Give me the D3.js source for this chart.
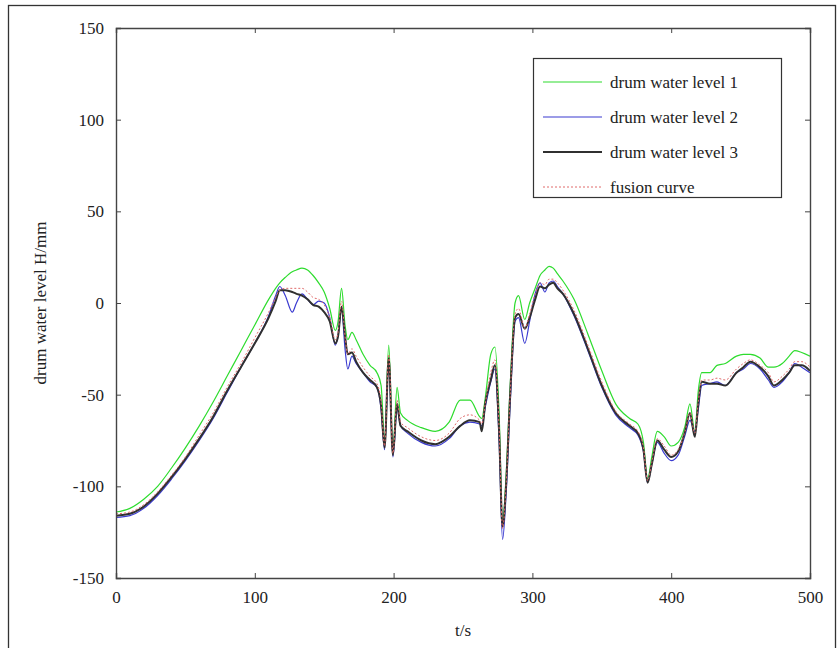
<!DOCTYPE html>
<html>
<head>
<meta charset="utf-8">
<script src="https://cdn.jsdelivr.net/npm/d3@7"></script>
<style>
  body { margin: 0; background: #fff; }
</style>
</head>
<body>
<svg id="chart" width="840" height="648"></svg>
<script>
const times = [0, 10, 20, 30, 40, 50, 60, 70, 80, 90, 100, 110, 115, 118, 122, 127, 130, 134, 138, 142, 146, 150, 154, 158, 160, 162.5, 165, 167, 170, 173, 178, 183, 188, 191, 193.5, 196.5, 199.5, 202.5, 205, 210, 220, 230, 240, 248, 255, 262, 263.5, 266, 270, 273, 276, 278.5, 281, 284, 287.5, 290, 294.5, 298, 302, 305.5, 309, 312, 315, 318, 322, 330, 340, 350, 360, 370, 376, 380, 383, 386, 390, 395, 400, 405, 410, 413.5, 417, 419.5, 422, 428, 433, 439, 447, 452, 457, 464, 470, 474, 480, 485, 489, 494, 500];

const level1 = [-114, -112, -107, -100, -90, -79, -67, -54, -40, -26, -12, 2, 8, 11, 14, 17, 18, 19, 18, 15, 11, 6, -3, -15, -10, 8, -12, -20, -16, -20, -28, -34, -38, -45, -75, -23, -80, -46, -60, -64, -68, -70, -65, -53, -53, -62, -63, -52, -28, -24, -60, -120, -95, -45, 0, 4, -9, 0, 8, 15, 18, 20, 19, 16, 12, 2, -17, -37, -55, -63, -66, -76, -96, -84, -70, -73, -78, -76, -67, -55, -70, -48, -38, -38, -34, -33, -29, -28, -28, -30, -35, -35, -33, -29, -26, -27, -29];

const level2 = [-117, -116, -112, -105, -96, -86, -75, -63, -49, -35, -22, -7, 4, 9, 4, -5, 0, 5, 2, -1, 1, 0, -8, -23, -18, -3, -25, -36, -29, -33, -38, -43, -46, -58, -80, -32, -84, -58, -67, -71, -76, -78, -74, -67, -65, -66, -67, -57, -43, -36, -75, -129, -105, -55, -10, -8, -22, -10, 5, 11, 6, 11, 12, 9, 5, -7, -26, -46, -61, -68, -72, -81, -98, -88, -76, -82, -86, -83, -72, -64, -70, -58, -45, -44, -43, -45, -38, -36, -33, -36, -42, -46, -43, -38, -33, -35, -38];

const level3 = [-116, -115, -111, -104, -95, -85, -74, -62, -48, -35, -22, -8, 1, 7, 7, 6, 5, 4, 2, -1, -2, -5, -10, -22, -18, -2, -18, -28, -27, -32, -38, -42, -46, -56, -79, -30, -83, -55, -67, -70, -75, -77, -73, -67, -64, -65, -70, -55, -42, -34, -70, -122, -100, -50, -8, -6, -14, -8, 2, 9, 8, 10, 11, 8, 5, -6, -25, -45, -60, -67, -71, -80, -98, -88, -75, -80, -84, -81, -70, -60, -73, -55, -43, -44, -44, -45, -38, -35, -32, -35, -40, -45, -42, -38, -34, -34, -37];

const fusion = [-115, -114, -110, -103, -94, -84, -72, -60, -46, -33, -19, -5, 3, 7, 8, 8, 8, 8, 6, 3, 2, -1, -8, -20, -16, 1, -18, -28, -25, -29, -35, -40, -44, -54, -78, -28, -82, -53, -65, -68, -73, -75, -71, -63, -61, -64, -66, -55, -38, -31, -68, -123, -100, -50, -6, -3, -14, -6, 5, 11, 10, 13, 13, 11, 7, -4, -23, -43, -59, -66, -70, -79, -97, -87, -74, -78, -83, -80, -70, -60, -71, -54, -42, -42, -41, -42, -36, -33, -31, -34, -38, -43, -40, -36, -32, -32, -35];

const xTicks = [0, 100, 200, 300, 400, 500];
const yTicks = [-150, -100, -50, 0, 50, 100, 150];
const seriesNames = ["drum water level 1", "drum water level 2", "drum water level 3", "fusion curve"];
const seriesColors = ["#2edc2e", "#3a3ad0", "#303030", "#e06a6a"];

const FONT = "'Liberation Serif', 'Times New Roman', Times, 'DejaVu Serif', serif";

const svg = d3.select("#chart");
const L = 116, R = 810, T = 28, B = 578;

svg.append("rect").attr("x", 8.5).attr("y", 5.5).attr("width", 827).attr("height", 660)
  .attr("fill", "none").attr("stroke", "#333").attr("stroke-width", 1.3);

const x = d3.scaleLinear().domain([0, 500]).range([L, R]);
const y = d3.scaleLinear().domain([-150, 150]).range([B, T]);

const series = [level1, level2, level3, fusion];

svg.append("clipPath").attr("id", "clip").append("rect")
  .attr("x", L).attr("y", T).attr("width", R - L).attr("height", B - T);

const line = d3.line().x(d => x(d[0])).y(d => y(d[1])).curve(d3.curveMonotoneX);
const g = svg.append("g").attr("clip-path", "url(#clip)");
const widths = [1.2, 1.2, 2, 1];
series.forEach((vals, i) => {
  const pts = times.map((t, j) => [t, vals[j]]);
  g.append("path").datum(pts).attr("d", line)
    .attr("fill", "none").attr("stroke", seriesColors[i]).attr("stroke-width", widths[i])
    .attr("stroke-dasharray", i === 3 ? "2,2" : null)
    .attr("stroke-linejoin", "round");
});

const tickLen = 5;
const fmt = d => String(d);
const axB = svg.append("g").attr("transform", `translate(0,${B})`)
  .call(d3.axisBottom(x).tickValues(xTicks).tickSize(-tickLen).tickPadding(13).tickFormat(fmt));
const axT = svg.append("g").attr("transform", `translate(0,${T})`)
  .call(d3.axisTop(x).tickValues(xTicks).tickSize(-tickLen).tickFormat(""));
const axL = svg.append("g").attr("transform", `translate(${L},0)`)
  .call(d3.axisLeft(y).tickValues(yTicks).tickSize(-tickLen).tickPadding(12).tickFormat(fmt));
const axR = svg.append("g").attr("transform", `translate(${R},0)`)
  .call(d3.axisRight(y).tickValues(yTicks).tickSize(-tickLen).tickFormat(""));
[axB, axT, axL, axR].forEach(a => {
  a.attr("font-family", FONT).attr("font-size", 17);
  a.select(".domain").attr("stroke", "#444").attr("stroke-width", 1.4);
  a.selectAll(".tick line").attr("stroke", "#444");
  a.selectAll(".tick text").style("font-family", FONT).style("font-size", "17px").attr("fill", "#222");
});

svg.append("text").attr("x", (L + R) / 2).attr("y", 636).attr("text-anchor", "middle")
  .style("font-family", FONT).style("font-size", "17px").attr("fill", "#222").text("t/s");
svg.append("text").attr("transform", `translate(46,${(T + B) / 2}) rotate(-90)`)
  .attr("text-anchor", "middle").style("font-family", FONT).style("font-size", "17px")
  .attr("fill", "#222").text("drum water level H/mm");

const lg = svg.append("g");
lg.append("rect").attr("x", 533.5).attr("y", 58.5).attr("width", 248).attr("height", 139)
  .attr("fill", "#fff").attr("stroke", "#333").attr("stroke-width", 1.2);
seriesNames.forEach((name, i) => {
  const cy = 82 + i * 35;
  lg.append("line").attr("x1", 543).attr("x2", 602).attr("y1", cy).attr("y2", cy)
    .attr("stroke", seriesColors[i]).attr("stroke-width", widths[i])
    .attr("stroke-dasharray", i === 3 ? "2,2" : null);
  lg.append("text").attr("x", 610).attr("y", cy + 6)
    .style("font-family", FONT).style("font-size", "17px").attr("fill", "#222").text(name);
});
</script>
</body>
</html>
